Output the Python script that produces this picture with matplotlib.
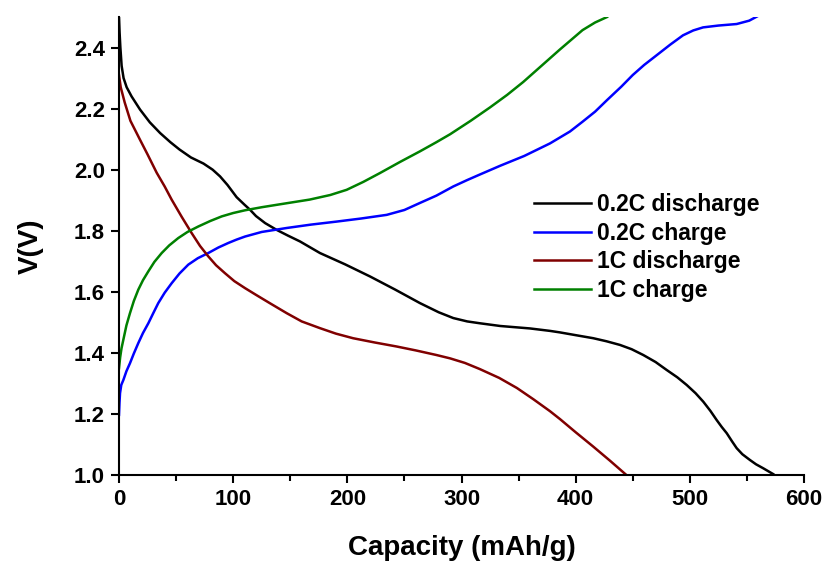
import matplotlib
matplotlib.use("Agg")
import matplotlib.pyplot as plt
from matplotlib.ticker import MultipleLocator, FormatStrFormatter

plt.rcParams['font.family'] = ['Liberation Sans', 'DejaVu Sans']
plt.rcParams['font.weight'] = 'bold'

# 0.2C discharge
dis02_x = [0, 0.5, 1.2, 2.3, 4, 6.7, 11, 18.4, 27, 36, 45, 53, 63, 74, 82, 88.5, 95, 103, 110, 114.7, 120,
           128, 138, 148, 158.5, 176, 198, 220, 242, 263.6, 280, 292.8, 305, 316, 334, 360, 377.5, 386.3,
           400, 415.4, 427, 438.8, 449, 459.2, 470, 479.7, 489, 497.2, 505, 511.8, 518, 523.5, 528,
           532.3, 537, 541, 546, 552.7, 558, 564.3, 573]
dis02_v = [2.50, 2.45, 2.40, 2.34, 2.30, 2.27, 2.24, 2.197, 2.155, 2.12, 2.09, 2.066, 2.04, 2.02, 2.00,
           1.978, 1.95, 1.91, 1.885, 1.869, 1.848, 1.825, 1.803, 1.784, 1.765, 1.727, 1.69, 1.65, 1.607,
           1.563, 1.533, 1.514, 1.503, 1.497, 1.488, 1.480, 1.472, 1.467, 1.458, 1.448, 1.438, 1.426,
           1.412, 1.393, 1.37, 1.344, 1.32, 1.295, 1.268, 1.24, 1.21, 1.18, 1.157, 1.137, 1.11, 1.088,
           1.068, 1.049, 1.035, 1.022, 1.003]

# 0.2C charge
ch02_x = [0, 0.4, 0.9, 2, 3.8, 6.5, 9.6, 13, 16.9, 21, 25.7, 30, 34.4, 40, 46.1, 53, 60.7, 69, 78.2, 87,
          95.8, 103, 110.4, 125, 146.9, 168, 190.7, 212, 234.5, 250, 263.6, 278, 292.8, 305, 316, 334,
          355, 377.5, 395, 406, 417, 427.5, 440, 450, 460, 471, 483, 494, 503, 511.6, 525, 541, 552, 560]
ch02_v = [1.197, 1.235, 1.268, 1.295, 1.311, 1.34, 1.366, 1.398, 1.432, 1.465, 1.497, 1.53, 1.563,
          1.597, 1.628, 1.66, 1.689, 1.71, 1.727, 1.745, 1.76, 1.771, 1.781, 1.796, 1.809, 1.82, 1.83,
          1.84, 1.852, 1.868, 1.891, 1.915, 1.945, 1.966, 1.984, 2.013, 2.045, 2.086, 2.125, 2.157,
          2.19, 2.228, 2.272, 2.31, 2.343, 2.375, 2.41, 2.44, 2.456, 2.466, 2.472, 2.477, 2.488, 2.504]

# 1C discharge
dis1_x = [0, 1.5, 5, 10, 18.4, 25, 33, 40, 46.1, 55, 63.7, 71, 78.2, 85, 92.8, 101, 110.4, 120, 132,
          146.9, 160, 176, 190, 205, 224, 243, 260, 278, 290, 303, 316, 333, 348.5, 363, 377.5, 386.3,
          400, 415.4, 430, 443.5]
dis1_v = [2.31, 2.27, 2.22, 2.16, 2.098, 2.05, 1.99, 1.945, 1.902, 1.845, 1.792, 1.75, 1.716, 1.687,
          1.661, 1.635, 1.612, 1.59, 1.563, 1.53, 1.503, 1.481, 1.463, 1.448, 1.434, 1.421, 1.408, 1.393,
          1.382, 1.367, 1.347, 1.318, 1.285, 1.248, 1.209, 1.183, 1.14, 1.093, 1.047, 1.003]

# 1C charge
ch1_x = [0, 1, 2.2, 3.8, 6.5, 9.6, 13, 16.9, 21, 25.7, 31, 37.4, 44, 51.9, 60, 69.5, 80, 90, 100, 110.4,
         125, 140, 167, 185, 199.4, 214, 228.6, 246, 263.6, 278, 290, 308, 325, 340, 354, 370, 386, 396,
         406, 417, 427.5]
ch1_v = [1.35, 1.385, 1.415, 1.443, 1.49, 1.53, 1.57, 1.607, 1.638, 1.667, 1.698, 1.727, 1.752, 1.776,
         1.796, 1.814, 1.832, 1.847, 1.858, 1.867, 1.877, 1.886, 1.902, 1.917, 1.934, 1.96, 1.989, 2.025,
         2.06, 2.09, 2.116, 2.16, 2.204, 2.245, 2.287, 2.34, 2.393, 2.425, 2.457, 2.482, 2.50]

series = [
    (dis02_x, dis02_v, '0.2C discharge', '#000000'),
    (ch02_x, ch02_v, '0.2C charge', '#0000ff'),
    (dis1_x, dis1_v, '1C discharge', '#800000'),
    (ch1_x, ch1_v, '1C charge', '#008000'),
]

fig = plt.figure(figsize=(8.27, 5.63), dpi=100)
ax = fig.add_axes([0.1439, 0.1563, 0.9722 - 0.1439, 0.9698 - 0.1563])

for x, v, lab, c in series:
    ax.plot(x, v, color=c, lw=1.8, label=lab, solid_joinstyle='round')

ax.set_xlim(0, 600)
ax.set_ylim(1.0, 2.5)
ax.xaxis.set_major_locator(MultipleLocator(100))
ax.xaxis.set_minor_locator(MultipleLocator(50))
ax.yaxis.set_major_locator(MultipleLocator(0.2))
ax.yaxis.set_major_formatter(FormatStrFormatter('%.1f'))

for s in ['top', 'right']:
    ax.spines[s].set_visible(False)
for s in ['left', 'bottom']:
    ax.spines[s].set_linewidth(1.5)

ax.tick_params(axis='both', which='major', direction='out', length=6, width=1.5,
               labelsize=16, pad=4)
ax.tick_params(axis='both', which='minor', direction='out', length=4, width=1.5)
for lab in ax.get_xticklabels() + ax.get_yticklabels():
    lab.set_fontweight('bold')

ax.set_xlabel('Capacity (mAh/g)', fontsize=20, fontweight='bold', labelpad=18)
ax.set_ylabel('V(V)', fontsize=20, fontweight='bold', labelpad=22)

leg = ax.legend(loc='center left', bbox_to_anchor=(0.593, 0.497), frameon=False,
                prop={'size': 16.5, 'weight': 'bold'}, handlelength=2.45, handletextpad=0.29,
                labelspacing=0.24, borderaxespad=0)
for h in leg.get_lines():
    h.set_linewidth(1.8)

fig.savefig('out.png', dpi=100)
